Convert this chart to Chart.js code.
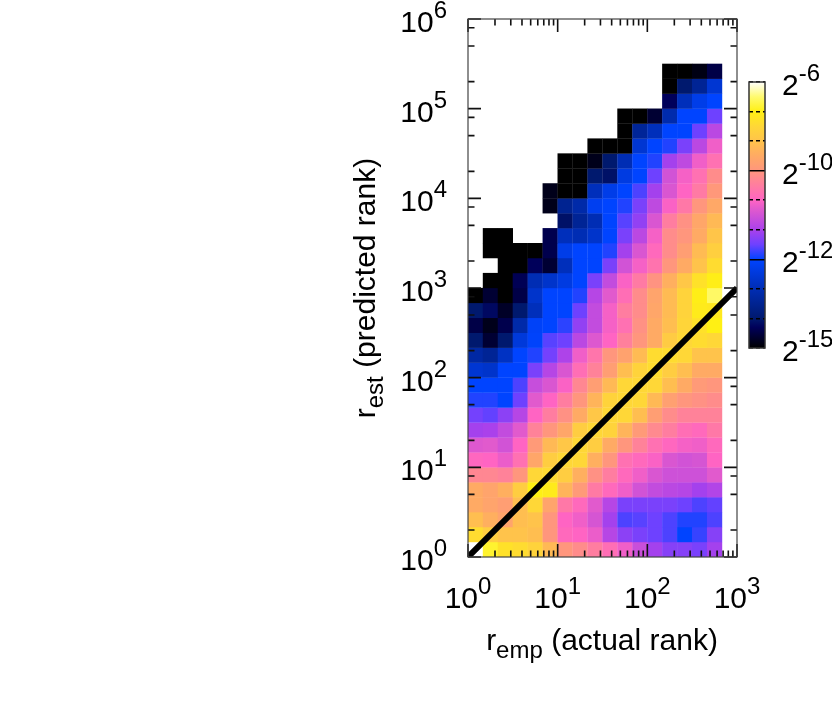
<!DOCTYPE html>
<html>
<head>
<meta charset="utf-8">
<title>rank heatmap</title>
<script src="https://cdn.jsdelivr.net/npm/chart.js@4/dist/chart.umd.js"></script>
<style>
  html, body { margin: 0; padding: 0; background: #fff; }
  canvas { position: absolute; }
</style>
</head>
<body>
<canvas id="heat" width="832" height="725" style="left:0;top:0"></canvas>
<canvas id="bar" width="92" height="310" style="left:740px;top:60px"></canvas>
<script>
// log2 of cell probability. index 0 = bottom row (rank 1), null = no data
const row00 = [null,-6.85,-7.3,-7.4,-7.6,-8.2,-9,-9.2,-9.5,-9.8,-10.15,-10.6,-11.05,-11.3,-11.3,-11.4,-11.05]
const row01 = [-7.4,-7.75,-8,-8,-8.1,-9,-9.9,-10,-10.2,-10.85,-11.25,-11.4,-11.5,-11.65,-12,-11.75,-11.3]
const row02 = [-8.1,-8.4,-8.65,-8.1,-8,-9,-10,-10.15,-10.45,-11.05,-11.65,-11.6,-11.5,-11.65,-11.85,-11.85,-11.65]
const row03 = [-8.5,-8.65,-8.8,-8.1,-7.5,-8.65,-9.6,-9.9,-10.3,-10.85,-11.4,-11.4,-11.4,-11.4,-11.5,-11.65,-11.55]
const row04 = [-8.5,-8.65,-8.4,-7.75,-7,-7.1,-8.3,-8.9,-9.55,-9.9,-10.15,-10.5,-10.7,-10.8,-10.85,-11.05,-10.9]
const row05 = [-9.3,-9.3,-9.4,-9,-7.5,-7.45,-7.75,-8.4,-9.1,-9.5,-9.9,-10.15,-10.4,-10.55,-10.55,-10.55,-10.3]
const row06 = [-9.95,-10,-10.2,-9.75,-8.6,-7.75,-7.5,-7.5,-8.4,-9,-9.75,-9.9,-10.05,-10.4,-10.5,-10.45,-10]
const row07 = [-10.35,-10.3,-10.5,-10,-8.9,-8.2,-7.9,-7.5,-7.75,-8.5,-9,-9.4,-9.75,-9.95,-10.1,-10.15,-9.9]
const row08 = [-11.05,-11,-10.7,-10.3,-9.4,-9,-8.6,-7.75,-7.5,-7.6,-8.3,-8.9,-9.25,-9.5,-9.8,-9.9,-9.6]
const row09 = [-11.45,-11.55,-11.25,-10.85,-10,-9.5,-9.1,-8.5,-7.9,-7.5,-7.5,-8.1,-8.8,-9.2,-9.4,-9.4,-9.4]
const row10 = [-11.85,-11.85,-12,-11.5,-10.3,-10,-9.5,-9,-8.3,-7.6,-7.5,-7.5,-8.2,-8.75,-9,-9.1,-9.2]
const row11 = [-12,-12,-12,-11.65,-10.65,-10.4,-10.05,-9.3,-8.8,-8.2,-7.5,-7.5,-7.5,-8.1,-8.5,-8.9,-9]
const row12 = [-12.6,-12.7,-12,-12,-11.4,-10.85,-10.4,-9.8,-9.4,-8.8,-8.1,-7.6,-7.4,-7.75,-8.1,-8.5,-8.5]
const row13 = [-13.25,-13.45,-12.8,-12,-11.85,-11.45,-10.95,-10.15,-9.65,-9,-8.7,-8.15,-7.4,-7.4,-7.5,-8,-8]
const row14 = [-14,-14.6,-14,-12.5,-12.05,-11.6,-11.5,-10.8,-10.35,-10,-9.45,-9,-8.5,-7.8,-7.5,-7.4,-7.5]
const row15 = [-14.45,-14.8,-14.4,-13.15,-12.1,-12,-11.8,-11.2,-10.7,-10.1,-9.75,-9.1,-8.5,-8.1,-7.55,-7.3,-7]
const row16 = [-14,-14.2,-14.7,-14,-12.9,-12,-12,-11.5,-10.7,-10.1,-9.5,-9.2,-8.6,-8.15,-7.6,-7.1,-7.15]
const row17 = [-15,-14.6,-15,-14.45,-12.7,-12,-12,-11.85,-10.85,-10.3,-9.8,-9.2,-8.65,-8.15,-7.6,-7.05,-6.55]
const row18 = [null,-15,-15,-14.35,-13,-12.7,-12.4,-12,-11.4,-10.7,-10.05,-9.55,-9.05,-8.4,-7.9,-7.3,-7.05]
const row19 = [null,null,-15,-15,-14.3,-14.6,-12.9,-12,-12,-11.4,-10.5,-10.1,-9.7,-9,-8.5,-8,-7.4]
const row20 = [null,-15,-15,-15,-15,-14.4,-12.3,-12,-12,-11.85,-11.05,-10.4,-9.9,-9.2,-8.8,-8.15,-7.7]
const row21 = [null,-15,-15,null,null,-14.4,-12.9,-13,-12.7,-12,-11.4,-10.8,-10.1,-9.2,-9,-8.5,-7.95]
const row22 = [null,null,null,null,null,null,-14.1,-13.45,-13,-12,-11.6,-11.2,-10.4,-9.5,-9.1,-8.6,-8.2]
const row23 = [null,null,null,null,null,-14.8,-13.5,-13.15,-12.2,-12,-11.85,-11.4,-10.75,-10.05,-9.6,-9,-8.55]
const row24 = [null,null,null,null,null,-14.8,-15,-15,-12.9,-12.3,-12,-11.65,-11.05,-10.4,-10,-9.55,-8.95]
const row25 = [null,null,null,null,null,null,-15,-15,-14,-14.1,-12.4,-12,-11.5,-10.5,-10.1,-9.75,-9.2]
const row26 = [null,null,null,null,null,null,-15,-15,-14.8,-14,-13,-12,-11.85,-11.05,-10.75,-10.15,-9.75]
const row27 = [null,null,null,null,null,null,null,null,-15,-15,-15,-12.6,-12,-11.85,-11.4,-10.8,-10.15]
const row28 = [null,null,null,null,null,null,null,null,null,null,-15,-13.4,-12.9,-12,-12,-11.5,-10.8]
const row29 = [null,null,null,null,null,null,null,null,null,null,-15,-15,-14.6,-13.1,-12,-12,-11.5]
const row30 = [null,null,null,null,null,null,null,null,null,null,null,null,null,-14.3,-12.9,-12.3,-12]
const row31 = [null,null,null,null,null,null,null,null,null,null,null,null,null,-15,-14,-13.45,-12.6]
const row32 = [null,null,null,null,null,null,null,null,null,null,null,null,null,-15,-15,-14.85,-14.45]
const rows = [row00,row01,row02,row03,row04,row05,row06,row07,row08,row09,row10,row11,
  row12,row13,row14,row15,row16,row17,row18,row19,row20,row21,row22,row23,row24,row25,
  row26,row27,row28,row29,row30,row31,row32]

const binsPerDecade = 6
const diagonal = [{ x: 1, y: 1 }, { x: 1000, y: 1000 }]

const xTicks = [1,2,3,4,5,6,7,8,9,10,20,30,40,50,60,70,80,90,100,200,300,400,500,600,700,800,900,1000]
const yTicks = [1,2,5,8,10,20,50,80,100,200,500,800,1000,2000,5000,8000,10000,20000,50000,80000,100000,200000,500000,800000,1000000]
const xMajor = [1,10,100,1000]
const yMajor = [1,10,100,1000,10000,100000,1000000]
const barTicks = [-15,-14,-13,-12,-11,-10,-9,-8,-7,-6]
const barSolid = [-12,-9]
const barLabels = [[-6,'-6'],[-9,'-10'],[-12,'-12'],[-15,'-15']]

// colour scale
const stopValues = [-15,-14.3,-14,-13,-12,-11.5,-11,-10.3,-10,-9.5,-9,-8.5,-8,-7.5,-7,-6.5,-6]
const stopColors = [[0,0,0],[0,0,90],[0,25,110],[0,45,180],[0,68,255],[110,65,255],[170,65,235],
  [225,90,205],[255,100,195],[255,125,160],[255,150,125],[255,170,100],[255,195,75],[255,215,55],
  [255,240,20],[255,250,110],[255,255,255]]

const FONT = '"Liberation Sans", Arial, sans-serif'
const SIZE = 30
const SMALL = 24

function colorFor(v) {
  let i = 0
  while (i < stopValues.length - 2 && v > stopValues[i + 1]) i++
  const t = Math.max(0, Math.min(1, (v - stopValues[i]) / (stopValues[i + 1] - stopValues[i])))
  const a = stopColors[i], b = stopColors[i + 1]
  return `rgb(${a.map((c, k) => Math.round(c + (b[k] - c) * t)).join(',')})`
}

const cells = []
rows.forEach((row, r) => row.forEach((v, c) => {
  if (v !== null) cells.push({
    x: Math.pow(10, (c + 0.5) / binsPerDecade),
    y: Math.pow(10, (r + 0.5) / binsPerDecade),
    v
  })
}))

// parts: [text, 'sup' | 'sub' | undefined]
function richText(ctx, parts, x, y, align) {
  const widths = parts.map(p => {
    ctx.font = `${p[1] ? SMALL : SIZE}px ${FONT}`
    return ctx.measureText(p[0]).width
  })
  const total = widths.reduce((a, b) => a + b, 0)
  let px = align === 'right' ? x - total : align === 'center' ? x - total / 2 : x
  ctx.fillStyle = '#000'
  ctx.textAlign = 'left'
  ctx.textBaseline = 'alphabetic'
  parts.forEach((p, i) => {
    ctx.font = `${p[1] ? SMALL : SIZE}px ${FONT}`
    const dy = p[1] === 'sup' ? -14 : p[1] === 'sub' ? 8 : 0
    ctx.fillText(p[0], px, y + dy)
    px += widths[i]
  })
}

const frameAndLabels = {
  id: 'frameAndLabels',
  afterDatasetsDraw(chart) {
    const { ctx, chartArea: a, scales: { x, y } } = chart
    ctx.save()
    ctx.strokeStyle = '#111'
    ctx.lineWidth = 1.6
    ctx.beginPath()
    x.ticks.forEach(t => {
      const px = x.getPixelForValue(t.value)
      const len = xMajor.includes(t.value) ? 13 : 6.5
      ctx.moveTo(px, a.bottom); ctx.lineTo(px, a.bottom - len)
      ctx.moveTo(px, a.top); ctx.lineTo(px, a.top + len)
    })
    y.ticks.forEach(t => {
      const py = y.getPixelForValue(t.value)
      const len = yMajor.includes(t.value) ? 13 : 6.5
      ctx.moveTo(a.left, py); ctx.lineTo(a.left + len, py)
      ctx.moveTo(a.right, py); ctx.lineTo(a.right - len, py)
    })
    ctx.stroke()
    ctx.strokeStyle = '#444'
    ctx.lineWidth = 1.2
    ctx.strokeRect(a.left, a.top, a.right - a.left, a.bottom - a.top)

    xMajor.forEach((v, i) => richText(ctx, [['10'], [String(i), 'sup']], x.getPixelForValue(v), 608, 'center'))
    yMajor.forEach((v, i) => richText(ctx, [['10'], [String(i), 'sup']], 447, y.getPixelForValue(v) + 13, 'right'))

    richText(ctx, [['r'], ['emp', 'sub'], [' (actual rank)']], 602, 650, 'center')
    ctx.translate(375, 288)
    ctx.rotate(-Math.PI / 2)
    richText(ctx, [['r'], ['est', 'sub'], [' (predicted rank)']], 0, 0, 'center')
    ctx.restore()
  }
}

new Chart(document.getElementById('heat'), {
  type: 'scatter',
  plugins: [frameAndLabels],
  data: {
    datasets: [
      {
        label: 'line',
        data: diagonal,
        showLine: true,
        borderColor: '#000',
        borderWidth: 6,
        pointRadius: 0,
        order: 0
      },
      {
        label: 'cells',
        data: cells,
        pointStyle: 'rect',
        pointBorderWidth: 0,
        pointBackgroundColor: c => (c.raw ? colorFor(c.raw.v) : '#000'),
        pointRadius: c => {
          const a = c.chart.chartArea
          return a ? ((a.right - a.left) / (3 * binsPerDecade) + 0.3) / Math.SQRT2 : 0
        },
        order: 1
      }
    ]
  },
  options: {
    responsive: false,
    animation: false,
    events: [],
    layout: { autoPadding: false, padding: { left: 468, top: 19, right: 95, bottom: 168 } },
    plugins: { legend: { display: false }, tooltip: { enabled: false } },
    scales: {
      x: {
        type: 'logarithmic', min: 1, max: 1000,
        afterBuildTicks: s => { s.ticks = xTicks.map(value => ({ value })) },
        grid: { display: false, drawTicks: false }, border: { display: false }, ticks: { display: false }
      },
      y: {
        type: 'logarithmic', min: 1, max: 1000000,
        afterBuildTicks: s => { s.ticks = yTicks.map(value => ({ value })) },
        grid: { display: false, drawTicks: false }, border: { display: false }, ticks: { display: false }
      }
    }
  }
})

const barFrame = {
  id: 'barFrame',
  afterDraw(chart) {
    const { ctx, chartArea: a, scales: { y } } = chart
    ctx.save()
    ctx.strokeStyle = '#333'
    ctx.lineWidth = 1.5
    ctx.strokeRect(a.left, a.top, a.right - a.left, a.bottom - a.top)
    barLabels.forEach(([v, s]) => richText(ctx, [['2'], [s, 'sup']], 42, y.getPixelForValue(v) + 13, 'left'))
    ctx.restore()
  }
}

new Chart(document.getElementById('bar'), {
  type: 'bar',
  plugins: [barFrame],
  data: {
    labels: ['scale'],
    datasets: [{
      data: [[-15, -6]],
      barPercentage: 1,
      categoryPercentage: 1,
      backgroundColor: c => {
        const { ctx, chartArea: a, scales } = c.chart
        if (!a) return '#000'
        const g = ctx.createLinearGradient(0, scales.y.getPixelForValue(-15), 0, scales.y.getPixelForValue(-6))
        stopValues.forEach((v, i) => g.addColorStop((v + 15) / 9, `rgb(${stopColors[i].join(',')})`))
        return g
      }
    }]
  },
  options: {
    responsive: false,
    animation: false,
    events: [],
    layout: { autoPadding: false, padding: { left: 9, top: 22, right: 67, bottom: 22 } },
    plugins: { legend: { display: false }, tooltip: { enabled: false } },
    scales: {
      x: { display: false },
      y: {
        min: -15, max: -6,
        afterBuildTicks: s => { s.ticks = barTicks.map(value => ({ value })) },
        ticks: { display: false },
        border: { display: false, dash: c => (barSolid.includes(c.tick && c.tick.value) ? [] : [4, 3]) },
        grid: { drawTicks: false, color: '#000', lineWidth: 1.5, z: 1 }
      }
    }
  }
})
</script>
</body>
</html>
